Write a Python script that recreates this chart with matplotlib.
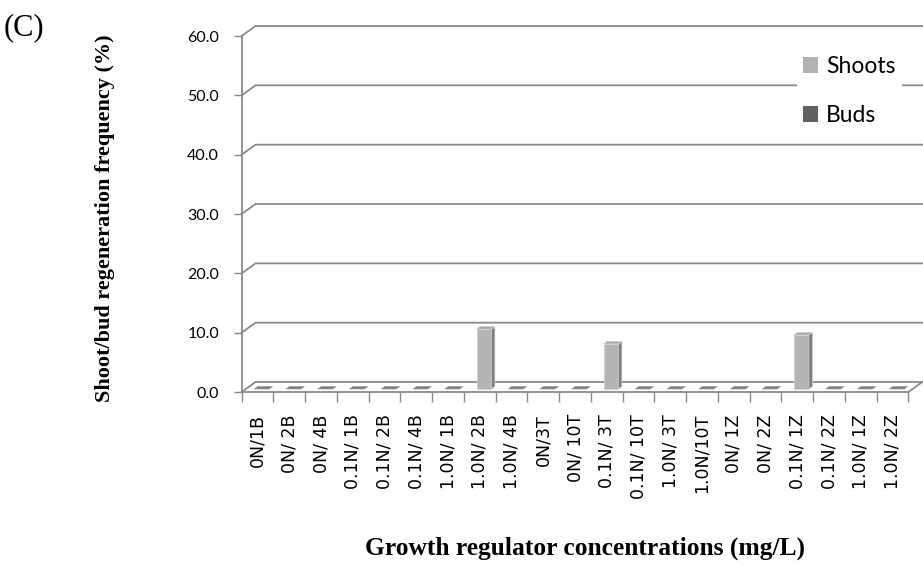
import matplotlib
matplotlib.use("Agg")
import matplotlib.pyplot as plt
from matplotlib.patches import Patch

# ---- data ----
categories = ["0N/1B", "0N/ 2B", "0N/ 4B", "0.1N/ 1B", "0.1N/ 2B", "0.1N/ 4B",
              "1.0N/ 1B", "1.0N/ 2B", "1.0N/ 4B", "0N/3T", "0N/ 10T", "0.1N/ 3T",
              "0.1N/ 10T", "1.0N/ 3T", "1.0N/10T", "0N/ 1Z", "0N/ 2Z", "0.1N/ 1Z",
              "0.1N/ 2Z", "1.0N/ 1Z", "1.0N/ 2Z"]
shoots = [0.0, 0.0, 0.0, 0.0, 0.0, 0.0, 0.0, 10.1, 0.0, 0.0, 0.0, 7.6,
          0.0, 0.0, 0.0, 0.0, 0.0, 9.1, 0.0, 0.0, 0.0]
buds = [0.0, 0.0, 0.0, 0.0, 0.0, 0.0, 0.0, 0.0, 0.0, 0.0, 0.0, 0.0,
        0.0, 0.0, 0.0, 0.0, 0.0, 0.0, 0.0, 0.0, 0.0]
yticks = [0, 10, 20, 30, 40, 50, 60]
series_names = ["Shoots", "Buds"]

# ---- style ----
W, H, DPI = 923, 566, 100
fig = plt.figure(figsize=(W / DPI, H / DPI), dpi=DPI)
fig.patch.set_facecolor("white")

n = len(categories)
px_per_cat = 31.75
px_per_val = 5.933
x0_px = 241.7
y0_px = 392.0
xmax = 21.45
ymin, ymax = -2.2, 62.7
left = x0_px / W
width = xmax * px_per_cat / W
bottom = (H - (y0_px - ymin * px_per_val)) / H
height = (ymax - ymin) * px_per_val / H
ax = fig.add_axes([left, bottom, width, height])
ax.set_xlim(0, xmax)
ax.set_ylim(ymin, ymax)
ax.set_facecolor("none")

# depth offsets (data units)
DX = 13.8 / px_per_cat
DY = 10.0 / px_per_val
grid_c = "#8a8a8a"
grid_lw = 1.3

# back-wall gridlines with diagonal connectors
for v in yticks:
    ax.plot([0, DX, n + DX], [v, v + DY, v + DY], color=grid_c, lw=grid_lw,
            solid_joinstyle="miter", clip_on=False, zorder=1)
# floor right edge
ax.plot([n, n + DX], [0, DY], color=grid_c, lw=grid_lw, clip_on=False, zorder=1)

# spines
for s in ["top", "right"]:
    ax.spines[s].set_visible(False)
ax.spines["left"].set_bounds(0, 60)
ax.spines["left"].set_color(grid_c)
ax.spines["left"].set_linewidth(grid_lw)
ax.spines["bottom"].set_position(("data", 0))
ax.spines["bottom"].set_bounds(0, n)
ax.spines["bottom"].set_color(grid_c)
ax.spines["bottom"].set_linewidth(grid_lw)

# y ticks
ax.set_yticks(yticks)
ax.set_yticklabels([f"{v:.1f}" for v in yticks], fontsize=11.5, family="Lato")
ax.tick_params(axis="y", length=5.8, width=1.0, color=grid_c, pad=10.5)

# x ticks: boundaries as major ticks, labels at centres as minor ticks
ax.set_xticks(list(range(n + 1)))
ax.set_xticklabels([])
ax.tick_params(axis="x", which="major", length=7.2, width=1.0, color=grid_c)
ax.set_xticks([i + 0.5 for i in range(n)], minor=True)
ax.set_xticklabels(categories, minor=True, rotation=90, fontsize=12.5,
                   family="DejaVu Sans")
ax.tick_params(axis="x", which="minor", length=0, pad=16)

# bars (pseudo 3-D)
bw = 0.47
f0, f1 = 0.30, 0.55
front_c, side_c, top_c = "#b4b4b4", "#7e7e7e", "#a6a6a6"
zero_c = "#7b7b7b"
edge_c = "#d0d0d0"
for i in range(n):
    v = shoots[i] + buds[i]
    xl = i + 0.5 - bw / 2 + f0 * DX
    xr = xl + bw
    yb = f0 * DY
    ddx = (f1 - f0) * DX
    ddy = (f1 - f0) * DY
    if v > 0:
        yt = yb + shoots[i]
        ax.fill([xl, xr, xr, xl], [yb, yb, yt, yt], facecolor=front_c,
                edgecolor=edge_c, lw=0.5, zorder=3)
        ax.fill([xr, xr + ddx, xr + ddx, xr], [yb, yb + ddy, yt + ddy, yt],
                facecolor=side_c, edgecolor=edge_c, lw=0.5, zorder=3)
        ax.fill([xl, xr, xr + ddx, xl + ddx], [yt, yt, yt + ddy, yt + ddy],
                facecolor=top_c, edgecolor=edge_c, lw=0.5, zorder=3)
    else:
        ax.fill([xl, xr, xr + ddx, xl + ddx], [yb, yb, yb + ddy, yb + ddy],
                facecolor=zero_c, edgecolor="#a0a0a0", lw=0.5, zorder=3)

# legend
handles = [Patch(facecolor="#b2b2b2", edgecolor="none"),
           Patch(facecolor="#606060", edgecolor="none")]
leg = fig.legend(handles, series_names, loc="center left",
                 bbox_to_anchor=(797 / W, 1 - 91 / H), frameon=True,
                 fancybox=False, framealpha=1, edgecolor="none",
                 facecolor="white", prop={"family": "Lato", "size": 16.5},
                 handlelength=0.68, handleheight=0.68, handletextpad=0.35,
                 labelspacing=1.2, borderpad=0.25, borderaxespad=0)

# titles / labels
fig.text(4 / W, 1 - 28 / H, "(C)", family="Liberation Serif", fontsize=22,
         va="center", ha="left")
fig.text(105 / W, 1 - 218 / H, "Shoot/bud regeneration frequency (%)",
         family="Liberation Serif", fontweight="bold", fontsize=16,
         rotation=90, va="center", ha="center")
fig.text(585 / W, 1 - 548 / H, "Growth regulator concentrations (mg/L)",
         family="Liberation Serif", fontweight="bold", fontsize=18.4,
         va="center", ha="center")

fig.savefig("out.png", dpi=DPI, facecolor="white")
